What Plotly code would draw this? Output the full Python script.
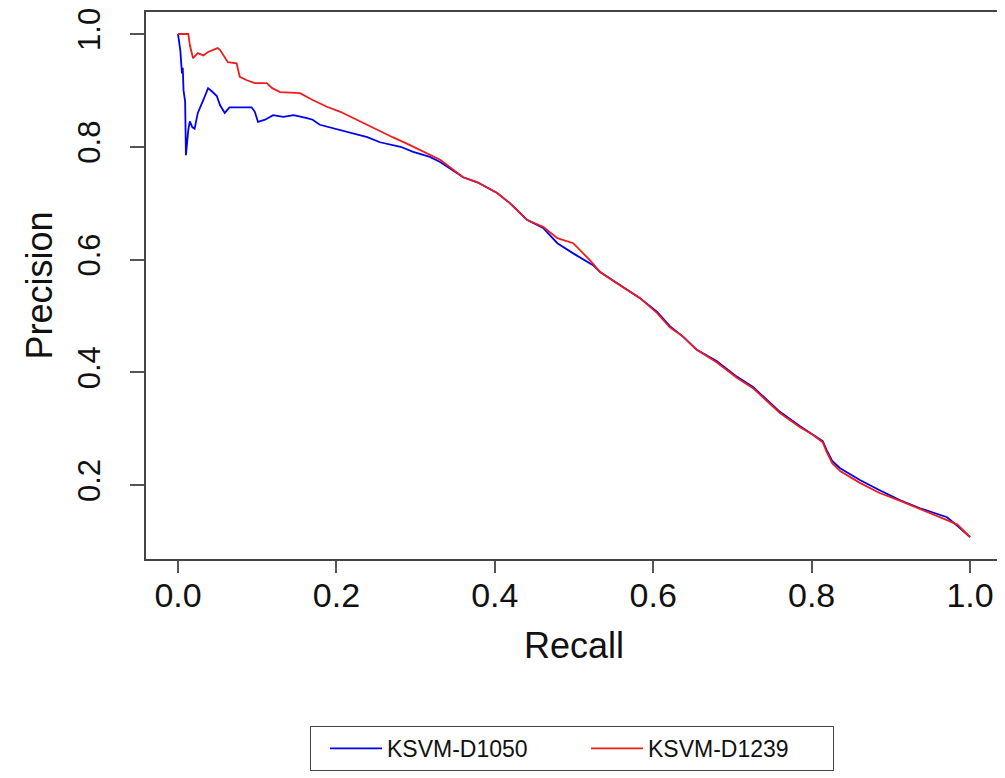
import plotly.graph_objects as go

# Precision-recall curve readings
recall_d1050 = [0.0, 0.003, 0.005, 0.006, 0.007, 0.009, 0.010, 0.013, 0.015, 0.018, 0.021, 0.025,
                0.032, 0.038, 0.043, 0.049, 0.053, 0.059, 0.065, 0.078, 0.093, 0.097, 0.101, 0.110,
                0.120, 0.133, 0.146, 0.163, 0.170, 0.179, 0.196, 0.213, 0.239, 0.255, 0.281, 0.297,
                0.318, 0.331, 0.360, 0.378, 0.403, 0.419, 0.441, 0.461, 0.479, 0.499, 0.524, 0.533,
                0.554, 0.583, 0.605, 0.621, 0.638, 0.655, 0.680, 0.706, 0.726, 0.760, 0.785, 0.802,
                0.814, 0.819, 0.826, 0.836, 0.861, 0.886, 0.912, 0.937, 0.971, 0.984, 1.0]
precision_d1050 = [1.0, 0.97, 0.93, 0.94, 0.90, 0.88, 0.785, 0.83, 0.845, 0.835, 0.832, 0.86,
                   0.883, 0.904, 0.898, 0.89, 0.874, 0.86, 0.87, 0.87, 0.87, 0.862, 0.844, 0.848,
                   0.856, 0.853, 0.856, 0.851, 0.848, 0.839, 0.833, 0.826, 0.817, 0.808, 0.800, 0.791,
                   0.782, 0.773, 0.746, 0.737, 0.718, 0.700, 0.670, 0.656, 0.629, 0.611, 0.590, 0.578,
                   0.558, 0.532, 0.507, 0.482, 0.463, 0.440, 0.420, 0.392, 0.374, 0.330, 0.305, 0.290,
                   0.278, 0.262, 0.243, 0.230, 0.209, 0.191, 0.173, 0.159, 0.143, 0.128, 0.108]

recall_d1239 = [0.0, 0.013, 0.015, 0.019, 0.025, 0.032, 0.038, 0.050, 0.053, 0.057, 0.063, 0.074,
                0.077, 0.078, 0.087, 0.097, 0.112, 0.119, 0.129, 0.154, 0.170, 0.188, 0.205, 0.221,
                0.246, 0.271, 0.293, 0.314, 0.331, 0.360, 0.378, 0.403, 0.419, 0.441, 0.461, 0.479,
                0.499, 0.520, 0.533, 0.554, 0.583, 0.605, 0.621, 0.638, 0.655, 0.680, 0.706, 0.726,
                0.760, 0.785, 0.802, 0.814, 0.819, 0.826, 0.836, 0.861, 0.886, 0.912, 0.937, 0.971,
                0.984, 1.0]
precision_d1239 = [1.0, 1.0, 0.98, 0.957, 0.966, 0.962, 0.968, 0.975, 0.972, 0.963, 0.95, 0.948,
                   0.933, 0.924, 0.918, 0.913, 0.913, 0.904, 0.897, 0.895, 0.883, 0.871, 0.862, 0.851,
                   0.833, 0.817, 0.803, 0.789, 0.777, 0.746, 0.737, 0.718, 0.700, 0.670, 0.658, 0.638,
                   0.629, 0.599, 0.578, 0.558, 0.532, 0.505, 0.480, 0.463, 0.440, 0.418, 0.390, 0.372,
                   0.328, 0.303, 0.289, 0.276, 0.259, 0.239, 0.225, 0.204, 0.186, 0.172, 0.158, 0.138,
                   0.130, 0.108]

x_ticks = [0.0, 0.2, 0.4, 0.6, 0.8, 1.0]
x_tick_labels = ["0.0", "0.2", "0.4", "0.6", "0.8", "1.0"]
y_ticks = [0.2, 0.4, 0.6, 0.8, 1.0]
y_tick_labels = ["0.2", "0.4", "0.6", "0.8", "1.0"]

FONT = "Liberation Sans, Arial, Helvetica, sans-serif"

fig = go.Figure()
fig.add_trace(go.Scatter(x=recall_d1050, y=precision_d1050, mode="lines", name="KSVM-D1050",
                         line=dict(color="#0000ee", width=1.8)))
fig.add_trace(go.Scatter(x=recall_d1239, y=precision_d1239, mode="lines", name="KSVM-D1239",
                         line=dict(color="#ee1c1c", width=1.8)))

# page body has an 8px margin, so the figure is 997x770 and offsets are reduced by 8
fig.update_layout(
    width=997, height=770,
    margin=dict(l=138, r=3, t=4, b=219),
    paper_bgcolor="white", plot_bgcolor="white",
    font=dict(family=FONT, color="#111"),
    showlegend=True,
    legend=dict(orientation="h", x=(302 - 138) / 856, y=(551 - 718) / 547,
                xanchor="left", yanchor="top",
                bordercolor="#444", borderwidth=1, font=dict(size=23, family=FONT),
                entrywidth=180, itemwidth=52, indentation=14),
    xaxis=dict(range=[-0.0404, 1.0404], tickmode="array", tickvals=x_ticks, ticktext=x_tick_labels,
               ticks="outside", ticklen=12, tickwidth=1.5, tickcolor="#555", automargin=False,
               showline=True, linecolor="#444", linewidth=1.5, mirror=True,
               showgrid=False, zeroline=False, tickfont=dict(size=34), ticklabelstandoff=-7,
               ticklabeloverflow="allow",
               title=dict(text="Recall", font=dict(size=36), standoff=20)),
    yaxis=dict(range=[0.069, 1.039], tickmode="array", tickvals=y_ticks, ticktext=y_tick_labels,
               ticks="outside", ticklen=14, tickwidth=1.5, tickcolor="#555", tickangle=-90,
               showline=True, linecolor="#444", linewidth=1.5, mirror=True, automargin=False,
               showgrid=False, zeroline=False, tickfont=dict(size=31), ticklabelstandoff=18,
               ticklabeloverflow="allow",
               title=dict(text="Precision", font=dict(size=36), standoff=8)),
)

fig.write_html("out.html")
